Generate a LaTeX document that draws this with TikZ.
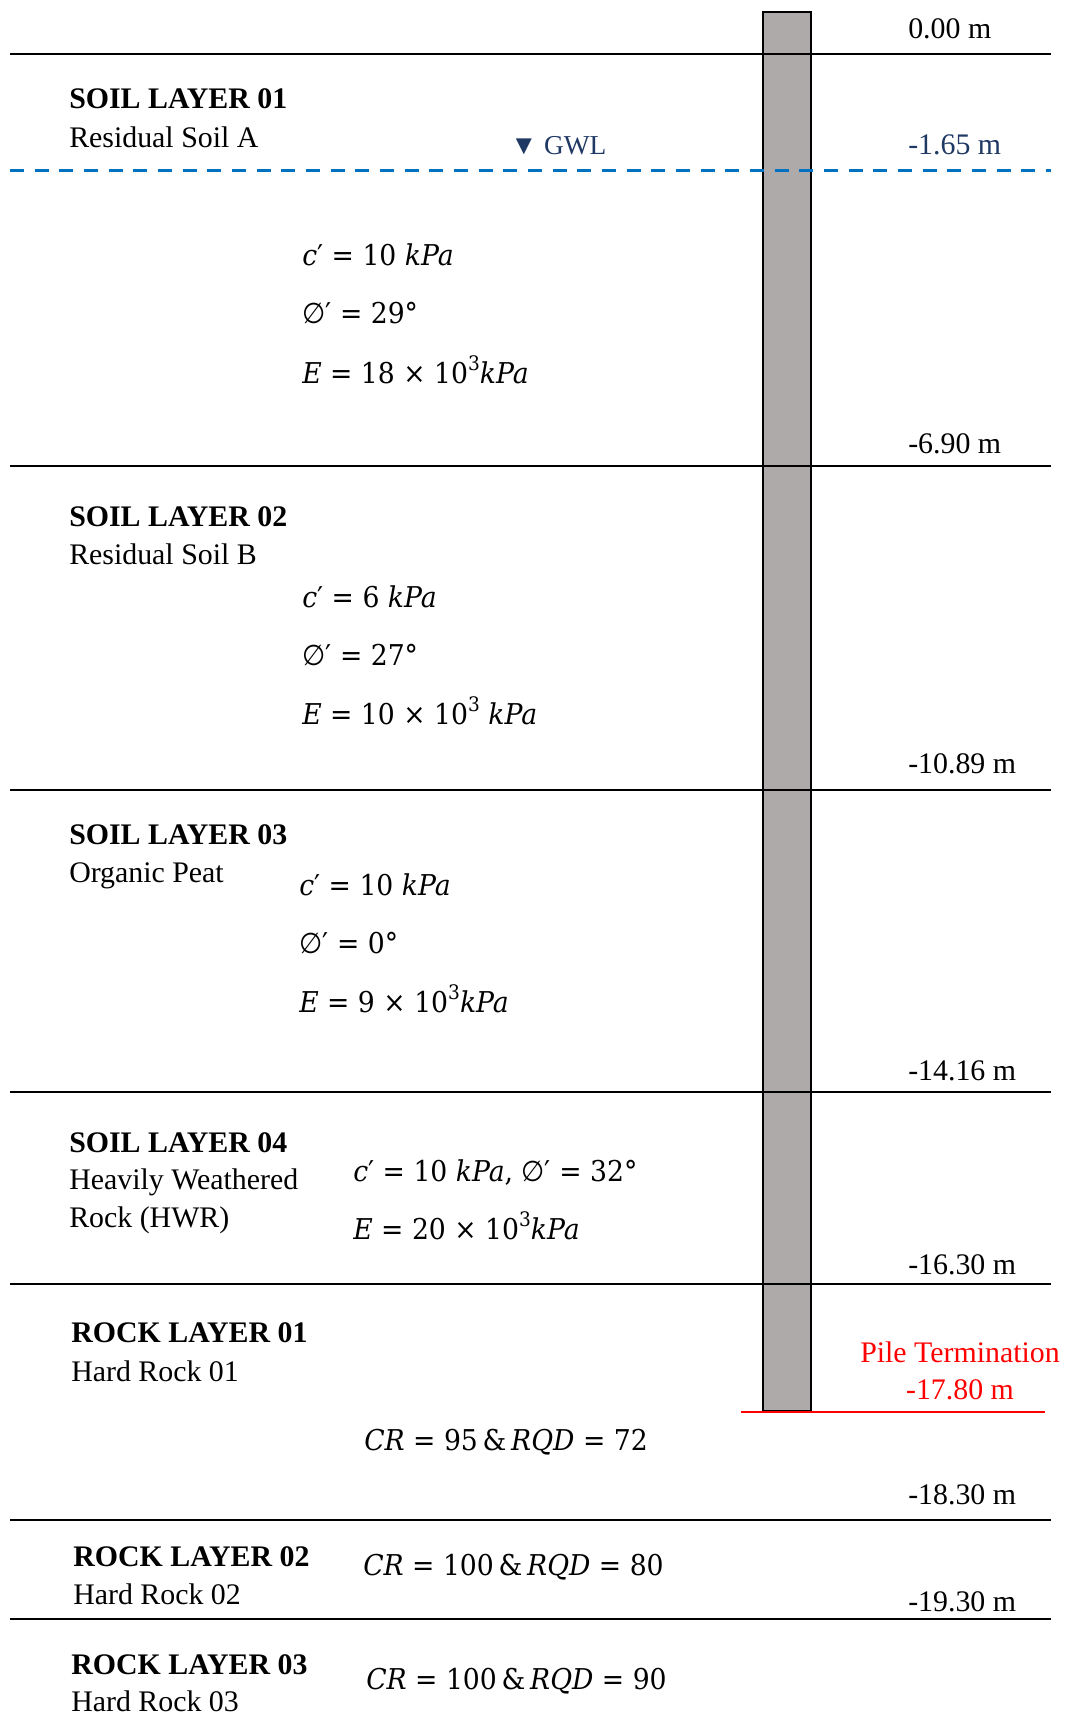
\documentclass[tikz,border=0pt]{standalone}
\usepackage{fontspec}
\setmainfont{Liberation Serif}
\newfontfamily\eqfont[FakeStretch=0.93]{DejaVu Serif}
\newfontfamily\eqsym[FakeStretch=0.93]{DejaVu Sans}
\newcommand\eqi[1]{{\itshape #1}}
\newcommand\eqprime{{\eqsym ′}}
\newcommand\eqphi{{\eqsym ∅}}
\newcommand\eqsup[1]{\raisebox{0.42em}{\fontsize{15}{18}\selectfont #1}}
\definecolor{pilegray}{HTML}{AEAAAA}
\definecolor{gwlblue}{HTML}{0070C0}
\definecolor{navyblue}{HTML}{1F3864}
\definecolor{termred}{HTML}{FF0000}
\begin{document}
\begin{tikzpicture}[x=0.75pt,y=-0.75pt,
  title/.style={anchor=base west, inner sep=0pt, font=\fontsize{22.4}{26}\selectfont\bfseries},
  sub/.style={anchor=base west, inner sep=0pt, font=\fontsize{22.4}{26}\selectfont},
  eq/.style={anchor=base west, inner sep=0pt, font=\fontsize{21.5}{26}\selectfont\eqfont},
  lvl/.style={anchor=base west, inner sep=0pt, font=\fontsize{22.4}{26}\selectfont},
  layerline/.style={line width=1.5pt, black},
  pilebox/.style={fill=pilegray, draw=black, line width=1.8pt}]
\useasboundingbox (0,0) rectangle (1067,1715);
% pile
\coordinate (pileTL) at (763,12);
\coordinate (pileBR) at (811,1411);
\draw[pilebox] (pileTL) rectangle (pileBR);
% layer boundaries
\foreach \name/\yy in {g0/54.5, b1/465.5, b2/789.5, b3/1092, b4/1283.5, b5/1519.5, b6/1619}{
  \coordinate (\name L) at (10,\yy);
  \coordinate (\name R) at (1051,\yy);
  \draw[layerline] (\name L) -- (\name R);
}
% ground water level
\coordinate (gwlL) at (10,170.5);
\coordinate (gwlR) at (1051,170.5);
\draw[gwlblue, line width=2.4pt, dash pattern=on 10.5pt off 8pt] (gwlL) -- (gwlR);
% pile termination line
\coordinate (ptL) at (741,1412);
\coordinate (ptR) at (1045,1412);
\draw[termred, line width=1.3pt] (ptL) -- (ptR);

% depth labels
\node[lvl] (d0) at (908,39) {0.00 m};
\node[lvl, text=navyblue] (d1) at (908,155) {-1.65 m};
\node[lvl] (d2) at (908,453) {-6.90 m};
\node[lvl] (d3) at (908,773) {-10.89 m};
\node[lvl] (d4) at (908,1080) {-14.16 m};
\node[lvl] (d5) at (908,1274) {-16.30 m};
\node[lvl] (d6) at (908,1504) {-18.30 m};
\node[lvl] (d7) at (908,1611) {-19.30 m};
\node[anchor=base, inner sep=0pt, font=\fontsize{22.4}{26}\selectfont, text=termred] (pt1) at (960,1362) {Pile Termination};
\node[anchor=base, inner sep=0pt, font=\fontsize{22.4}{26}\selectfont, text=termred] (pt2) at (960,1399) {-17.80 m};
\node[anchor=base west, inner sep=0pt, font=\fontsize{20.5}{24}\selectfont, text=navyblue] (gwl) at (510,155) {▼ GWL};

% layer names
\node[title] (t1) at (69,109) {SOIL LAYER 01};
\node[sub] (s1) at (69,148) {Residual Soil A};
\node[title] (t2) at (69,526) {SOIL LAYER 02};
\node[sub] (s2) at (69,564) {Residual Soil B};
\node[title] (t3) at (69,844) {SOIL LAYER 03};
\node[sub] (s3) at (69,882) {Organic Peat};
\node[title] (t4) at (69,1152) {SOIL LAYER 04};
\node[sub] (s4a) at (69,1189) {Heavily Weathered};
\node[sub] (s4b) at (69,1227) {Rock (HWR)};
\node[title] (t5) at (71,1342) {ROCK LAYER 01};
\node[sub] (s5) at (71,1381) {Hard Rock 01};
\node[title] (t6) at (73,1566) {ROCK LAYER 02};
\node[sub] (s6) at (73,1604) {Hard Rock 02};
\node[title] (t7) at (71,1674) {ROCK LAYER 03};
\node[sub] (s7) at (71,1711) {Hard Rock 03};

% parameters
\node[eq] (e1a) at (302,266) {\eqi{c}\eqprime{} = 10 \eqi{kPa}};
\node[eq] (e1b) at (302,324) {\eqphi\eqprime{} = 29°};
\node[eq] (e1c) at (302,383) {\eqi{E} = 18 × 10\eqsup{3}\eqi{kPa}};
\node[eq] (e2a) at (302,607) {\eqi{c}\eqprime{} = 6 \eqi{kPa}};
\node[eq] (e2b) at (302,665) {\eqphi\eqprime{} = 27°};
\node[eq] (e2c) at (302,724) {\eqi{E} = 10 × 10\eqsup{3} \eqi{kPa}};
\node[eq] (e3a) at (299,895) {\eqi{c}\eqprime{} = 10 \eqi{kPa}};
\node[eq] (e3b) at (299,953) {\eqphi\eqprime{} = 0°};
\node[eq] (e3c) at (299,1012) {\eqi{E} = 9 × 10\eqsup{3}\eqi{kPa}};
\node[eq] (e4a) at (353,1181) {\eqi{c}\eqprime{} = 10 \eqi{kPa}, \eqphi\eqprime{} = 32°};
\node[eq] (e4b) at (353,1239) {\eqi{E} = 20 × 10\eqsup{3}\eqi{kPa}};
\node[eq] (e5) at (364,1450) {\eqi{CR} = 95\,\&\,\eqi{RQD} = 72};
\node[eq] (e6) at (363,1575) {\eqi{CR} = 100\,\&\,\eqi{RQD} = 80};
\node[eq] (e7) at (366,1689) {\eqi{CR} = 100\,\&\,\eqi{RQD} = 90};
\end{tikzpicture}
\end{document}
